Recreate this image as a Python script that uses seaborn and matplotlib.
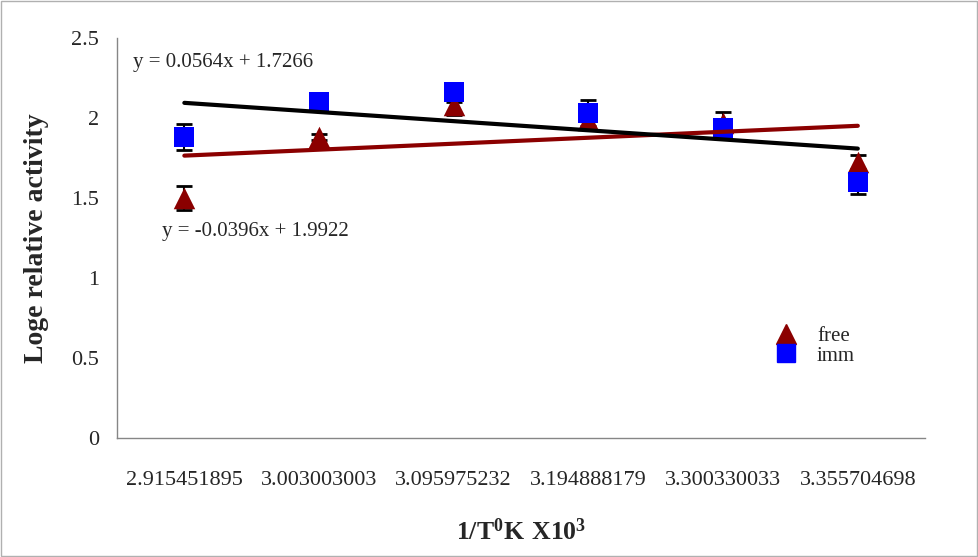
import numpy as np
import pandas as pd
import matplotlib
matplotlib.use("Agg")
import matplotlib.pyplot as plt
from matplotlib.lines import Line2D
from matplotlib.patches import Rectangle
import seaborn as sns

# data
temps = ['2.915451895', '3.003003003', '3.095975232',
         '3.194888179', '3.300330033', '3.355704698']
free_vals = [1.50, 1.88, 2.08, 1.99, 1.97, 1.725]
free_err = [0.075, 0.02, 0.06, 0.05, 0.07, 0.045]
imm_vals = [1.88, 2.097, 2.16, 2.03, 1.94, 1.60]
imm_err = [0.08, 0.03, 0.06, 0.08, 0.05, 0.075]
eq_free = 'y = 0.0564x + 1.7266'
eq_imm = 'y = -0.0396x + 1.9922'

red = '#8b0000'
blue = '#0000ff'

sns.set_style('white')
plt.rcParams['font.family'] = ['Liberation Serif', 'DejaVu Serif']
plt.rcParams['mathtext.fontset'] = 'custom'
plt.rcParams['mathtext.rm'] = 'Liberation Serif'
plt.rcParams['mathtext.bf'] = 'Liberation Serif:bold'

pos = np.arange(len(temps))
df = pd.DataFrame({'pos': pos, 'free': free_vals, 'imm': imm_vals})

fig = plt.figure(figsize=[9.79, 5.57], dpi=100)
ax = fig.add_axes([0.1195, 0.2136, 0.8255, 0.7184])

# error bars
ax.errorbar(pos, free_vals, yerr=free_err, fmt='none', ecolor='black',
            elinewidth=1.5, capsize=6, capthick=2, zorder=2)
ax.errorbar(pos, imm_vals, yerr=imm_err, fmt='none', ecolor='black',
            elinewidth=1.5, capsize=6, capthick=2, zorder=2)

# markers
sns.scatterplot(data=df, x='pos', y='free', marker='^', s=240, color=red,
                edgecolor=red, linewidth=0, ax=ax, zorder=3)
sns.scatterplot(data=df, x='pos', y='imm', marker='s', s=190, color=blue,
                edgecolor=blue, linewidth=0, ax=ax, zorder=4)

# linear trendlines
sns.regplot(data=df, x='pos', y='free', scatter=False, ci=None, ax=ax,
            line_kws={'color': red, 'lw': 3, 'zorder': 5})
sns.regplot(data=df, x='pos', y='imm', scatter=False, ci=None, ax=ax,
            line_kws={'color': 'black', 'lw': 3, 'zorder': 5})

ax.set_xlim(-0.5, len(temps) - 0.5)
ax.set_ylim(0, 2.5)
ax.set_yticks([0, 0.5, 1, 1.5, 2, 2.5])
ax.set_yticklabels(['0', '0.5', '1', '1.5', '2', '2.5'])
ax.set_xticks(pos)
ax.set_xticklabels(temps)
ax.set_xticks(np.arange(-0.5, len(temps)), minor=True)
ax.tick_params(axis='x', which='major', length=0, pad=24, labelsize=16)
ax.tick_params(axis='x', which='minor', length=8, width=1, color='#868686',
               direction='out')
ax.tick_params(axis='y', length=7, width=1, color='#868686', direction='out',
               labelsize=16, pad=6)

for side in ['top', 'right']:
    ax.spines[side].set_visible(False)
for side in ['left', 'bottom']:
    ax.spines[side].set_color('#868686')
    ax.spines[side].set_linewidth(1)

ax.set_xlabel(r'$\mathbf{1/T^{0}K\ X10^{3}}$', fontsize=18.5, labelpad=20)
ax.set_ylabel('Loge relative activity', fontsize=20, fontweight='bold',
              labelpad=16)

ax.text(-0.381, 2.344, eq_free, fontsize=15, va='center', ha='left')
ax.text(-0.165, 1.2875, eq_imm, fontsize=15, va='center', ha='left')

handles = [Line2D([], [], marker='^', color=red, ls='none', markersize=14),
           Line2D([], [], marker='s', color=blue, ls='none', markersize=13)]
fig.legend(handles, ['free', 'imm'], loc='upper left',
           bbox_to_anchor=(0.775, 0.44), frameon=False, fontsize=15,
           labelspacing=0.0, handletextpad=0.9, handlelength=1.2,
           borderpad=0.2)

fig.add_artist(Rectangle((0.001, 0.001), 0.997, 0.997,
                         transform=fig.transFigure, fill=False,
                         edgecolor='#b0b0b0', lw=1))

plt.savefig('out.png', dpi=100)
